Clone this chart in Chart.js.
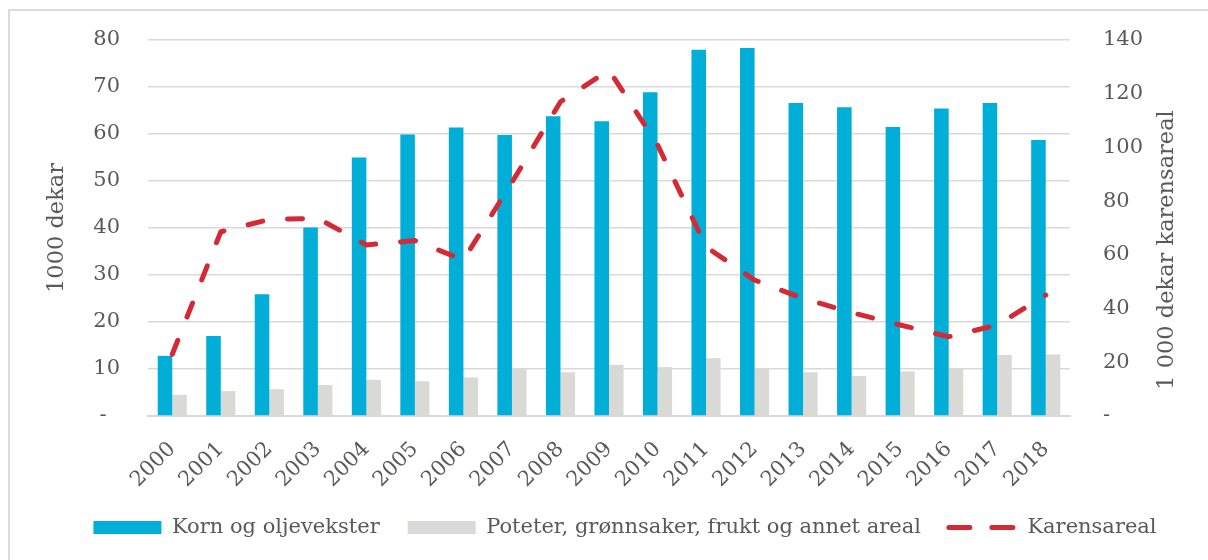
<!DOCTYPE html>
<html>
<head>
<meta charset="utf-8">
<script src="https://cdn.jsdelivr.net/npm/chart.js@4"></script>
<style>
  html, body { margin: 0; padding: 0; background: #fff; }
  #wrap { position: relative; width: 1208px; height: 560px; overflow: hidden; }
  #frame { position: absolute; left: 8px; top: 9px; width: 1300px; height: 600px;
           border-left: 2px solid #dcdcdc; border-top: 2px solid #dcdcdc; }
  canvas { position: absolute; left: 0; top: 0; }
</style>
</head>
<body>
<div id="wrap">
  <div id="frame"></div>
  <canvas id="chart" width="1208" height="560"></canvas>
</div>
<script>
// årstall
const years = ['2000', '2001', '2002', '2003', '2004', '2005', '2006', '2007', '2008', '2009',
               '2010', '2011', '2012', '2013', '2014', '2015', '2016', '2017', '2018'];

// 1000 dekar (venstre akse)
const korn = [12.8, 17.0, 25.9, 40.1, 55.0, 59.9, 61.4, 59.8, 63.8, 62.7,
              68.9, 77.9, 78.3, 66.6, 65.7, 61.5, 65.4, 66.6, 58.7];
const poteter = [4.5, 5.3, 5.7, 6.6, 7.7, 7.4, 8.2, 10.1, 9.3, 10.9,
                 10.4, 12.3, 10.1, 9.3, 8.5, 9.5, 10.1, 13.0, 13.1];

// 1 000 dekar karensareal (høyre akse)
const karens = [23, 68.6, 73.2, 73.6, 63.7, 65.3, 58.1, 87, 117, 128.8,
                101, 63, 50.6, 43.8, 38.5, 33.9, 29.5, 33.9, 45];

const leftTicks = [0, 10, 20, 30, 40, 50, 60, 70, 80];
const rightTicks = [0, 20, 40, 60, 80, 100, 120, 140];

const serif = 'DejaVu Serif';
const txt = '#595959';
const gridCol = '#d9d9d9';
const dash = [15, 25];
const legendDash = [21, 22];

// tittel på høyre akse, lest nedenfra og opp
const rightTitle = {
    id: 'rightTitle',
    afterDraw(chart) {
        const ctx = chart.ctx;
        ctx.save();
        ctx.translate(1167, 250);
        ctx.rotate(-Math.PI / 2);
        ctx.font = '22.5px "' + serif + '"';
        ctx.fillStyle = txt;
        ctx.textAlign = 'center';
        ctx.textBaseline = 'middle';
        ctx.fillText('1 000 dekar karensareal', 0, 0);
        ctx.restore();
    }
};

const legendRank = [2, 0, 1];

new Chart(document.getElementById('chart'), {
    type: 'bar',
    data: {
        labels: years,
        datasets: [{
            type: 'line',
            label: 'Karensareal',
            data: karens,
            yAxisID: 'y2',
            borderColor: '#d42a35',
            backgroundColor: '#d42a35',
            borderWidth: 5,
            borderCapStyle: 'round',
            borderDash: dash,
            tension: 0,
            pointRadius: 0,
            pointStyle: 'line'
        }, {
            label: 'Korn og oljevekster',
            data: korn,
            yAxisID: 'y',
            backgroundColor: '#00aed7',
            pointStyle: 'rect',
            categoryPercentage: 0.6,
            barPercentage: 1.0
        }, {
            label: 'Poteter, grønnsaker, frukt og annet areal',
            data: poteter,
            yAxisID: 'y',
            backgroundColor: '#d9d9d5',
            pointStyle: 'rect',
            categoryPercentage: 0.6,
            barPercentage: 1.0
        }]
    },
    options: {
        responsive: false,
        animation: false,
        layout: { padding: { left: 42, right: 0, top: 40, bottom: 12 } },
        plugins: {
            tooltip: { enabled: false },
            legend: {
                position: 'bottom',
                labels: {
                    usePointStyle: true,
                    pointStyleWidth: 68,
                    boxHeight: 13,
                    padding: 28,
                    color: txt,
                    font: { family: serif, size: 21 },
                    sort: (a, b) => legendRank[a.datasetIndex] - legendRank[b.datasetIndex],
                    generateLabels(chart) {
                        const items = Chart.defaults.plugins.legend.labels.generateLabels(chart);
                        items.forEach(it => {
                            if (it.datasetIndex === 0) {
                                it.lineDash = legendDash;
                                it.lineCap = 'round';
                            }
                        });
                        return items;
                    }
                }
            }
        },
        scales: {
            x: {
                grid: { display: false },
                border: { color: gridCol, width: 2 },
                ticks: {
                    color: txt,
                    font: { family: serif, size: 21 },
                    minRotation: 45,
                    maxRotation: 45,
                    padding: 13
                },
                afterFit(scale) { scale.height = 73; }
            },
            y: {
                position: 'left',
                min: 0,
                max: 80,
                afterBuildTicks(scale) { scale.ticks = leftTicks.map(v => ({ value: v })); },
                grid: { color: gridCol, lineWidth: 1.5, drawTicks: true, tickLength: 26, tickColor: 'transparent' },
                border: { display: false },
                ticks: {
                    color: txt,
                    font: { family: serif, size: 21 },
                    padding: 2,
                    callback: v => v === 0 ? '-  ' : v
                },
                title: {
                    display: true,
                    text: '1000 dekar',
                    color: txt,
                    font: { family: serif, size: 22.5 },
                    padding: { top: 2, bottom: 0 }
                },
                afterFit(scale) { scale.width = 106; }
            },
            y2: {
                position: 'right',
                min: 0,
                max: 140,
                afterBuildTicks(scale) { scale.ticks = rightTicks.map(v => ({ value: v })); },
                grid: { drawOnChartArea: false, drawTicks: true, tickLength: 31, tickColor: 'transparent' },
                border: { display: false },
                ticks: {
                    color: txt,
                    font: { family: serif, size: 21 },
                    padding: 2,
                    callback: v => v === 0 ? '-' : v
                },
                afterFit(scale) { scale.width = 138; }
            }
        }
    },
    plugins: [rightTitle]
});
</script>
</body>
</html>
